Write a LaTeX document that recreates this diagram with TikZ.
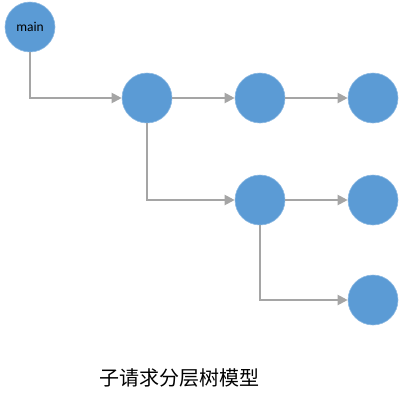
\documentclass[tikz,border=0pt]{standalone}
\usepackage{fontspec}
\setmainfont{Carlito}
\newfontfamily\cjk{Noto Sans CJK SC}
\usetikzlibrary{positioning,arrows.meta}
\definecolor{ballblue}{HTML}{5B9BD5}
\definecolor{linkgray}{HTML}{A5A5A5}
\tikzset{>={Triangle[length=10pt,width=10pt]}}

\begin{document}
\begin{tikzpicture}[x=1pt,y=-1pt,
  ball/.style={circle,fill=ballblue,draw=ballblue!70!white,line width=.6pt,minimum size=50pt,inner sep=0pt},
  link/.style={->,draw=linkgray,color=linkgray,line width=2pt}]
\useasboundingbox (0,0) rectangle (419,400);
\node[ball] (M) at (30,27) {\fontsize{13.5}{15}\selectfont main};
\node[ball] (A) at (147,98) {};
\node[ball] (B) at (260,98) {};
\node[ball] (C) at (373,98) {};
\node[ball] (D) at (260,200) {};
\node[ball] (E) at (373,200) {};
\node[ball] (F) at (373,300) {};
\draw[link] (M) |- (A);
\draw[link] (A) -- (B);
\draw[link] (B) -- (C);
\draw[link] (A) |- (D);
\draw[link] (D) -- (E);
\draw[link] (D) |- (F);
\node (cap) at (179,378) {\cjk\fontsize{20}{22}\selectfont 子请求分层树模型};
\end{tikzpicture}
\end{document}
